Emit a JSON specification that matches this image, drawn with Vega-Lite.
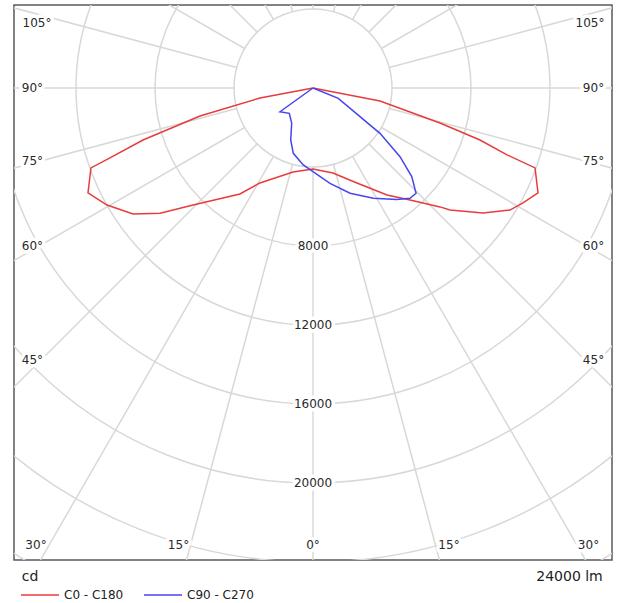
{
  "$schema": "https://vega.github.io/schema/vega-lite/v6.json",
  "width": 598,
  "height": 555,
  "autosize": {"type": "none"},
  "padding": {"left": 14, "top": 5, "right": 8, "bottom": 43},
  "background": "white",
  "config": {
    "view": {"stroke": "#5a5a5a", "strokeWidth": 1.5},
    "font": "DejaVu Sans"
  },
  "datasets": {
    "spokes": [{"a": 0}, {"a": 15}, {"a": 30}, {"a": 45}, {"a": 60}, {"a": 75}, {"a": 90}, {"a": 105}, {"a": 120}, {"a": 135}, {"a": 150}, {"a": 165}, {"a": 180}, {"a": 195}, {"a": 210}, {"a": 225}, {"a": 240}, {"a": 255}, {"a": 270}, {"a": 285}, {"a": 300}, {"a": 315}, {"a": 330}, {"a": 345}],
    "rings": [{"r": 8000}, {"r": 12000}, {"r": 16000}, {"r": 20000}, {"r": 24000}, {"r": 28000}],
    "inner": [{"r": 4000}],
    "curves": [
      {"c": "C0 - C180", "s": -90, "cd": 0},
      {"c": "C0 - C180", "s": -79.3, "cd": 2731},
      {"c": "C0 - C180", "s": -76.1, "cd": 5894},
      {"c": "C0 - C180", "s": -73, "cd": 9001},
      {"c": "C0 - C180", "s": -71, "cd": 10872},
      {"c": "C0 - C180", "s": -70.2, "cd": 11948},
      {"c": "C0 - C180", "s": -65, "cd": 12571},
      {"c": "C0 - C180", "s": -60.4, "cd": 11995},
      {"c": "C0 - C180", "s": -55, "cd": 11124},
      {"c": "C0 - C180", "s": -50.7, "cd": 10003},
      {"c": "C0 - C180", "s": -45.7, "cd": 8486},
      {"c": "C0 - C180", "s": -39.3, "cd": 7196},
      {"c": "C0 - C180", "s": -34.6, "cd": 6516},
      {"c": "C0 - C180", "s": -29.2, "cd": 5508},
      {"c": "C0 - C180", "s": -13.4, "cd": 4371},
      {"c": "C0 - C180", "s": 0, "cd": 4101},
      {"c": "C0 - C180", "s": 13.2, "cd": 4421},
      {"c": "C0 - C180", "s": 24.8, "cd": 5300},
      {"c": "C0 - C180", "s": 34.7, "cd": 6587},
      {"c": "C0 - C180", "s": 40.9, "cd": 7501},
      {"c": "C0 - C180", "s": 46.9, "cd": 8811},
      {"c": "C0 - C180", "s": 48.3, "cd": 9287},
      {"c": "C0 - C180", "s": 53.7, "cd": 10683},
      {"c": "C0 - C180", "s": 58.2, "cd": 11732},
      {"c": "C0 - C180", "s": 61.3, "cd": 12122},
      {"c": "C0 - C180", "s": 65, "cd": 12571},
      {"c": "C0 - C180", "s": 70.2, "cd": 11948},
      {"c": "C0 - C180", "s": 71, "cd": 10391},
      {"c": "C0 - C180", "s": 72.7, "cd": 8856},
      {"c": "C0 - C180", "s": 74.6, "cd": 6670},
      {"c": "C0 - C180", "s": 79, "cd": 3455},
      {"c": "C0 - C180", "s": 90, "cd": 0},
      {"c": "C90 - C270", "s": -90, "cd": 0},
      {"c": "C90 - C270", "s": -54.3, "cd": 2057},
      {"c": "C90 - C270", "s": -43.1, "cd": 1755},
      {"c": "C90 - C270", "s": -31.1, "cd": 2088},
      {"c": "C90 - C270", "s": -23.2, "cd": 2864},
      {"c": "C90 - C270", "s": -16.8, "cd": 3453},
      {"c": "C90 - C270", "s": -7.2, "cd": 3929},
      {"c": "C90 - C270", "s": 0, "cd": 4238},
      {"c": "C90 - C270", "s": 10.1, "cd": 4901},
      {"c": "C90 - C270", "s": 19.4, "cd": 5651},
      {"c": "C90 - C270", "s": 28.7, "cd": 6364},
      {"c": "C90 - C270", "s": 36.9, "cd": 7052},
      {"c": "C90 - C270", "s": 41.3, "cd": 7437},
      {"c": "C90 - C270", "s": 44.4, "cd": 7458},
      {"c": "C90 - C270", "s": 48.1, "cd": 6718},
      {"c": "C90 - C270", "s": 51.7, "cd": 5613},
      {"c": "C90 - C270", "s": 55.9, "cd": 4095},
      {"c": "C90 - C270", "s": 58.6, "cd": 2788},
      {"c": "C90 - C270", "s": 67.8, "cd": 1383},
      {"c": "C90 - C270", "s": 90, "cd": 0}
    ],
    "labels": [
      {"t": "8000", "x": 0, "y": -8000},
      {"t": "12000", "x": 0, "y": -12000},
      {"t": "16000", "x": 0, "y": -16000},
      {"t": "20000", "x": 0, "y": -20000},
      {"t": "105°", "x": -13975, "y": 3291},
      {"t": "90°", "x": -14203, "y": 0},
      {"t": "75°", "x": -14203, "y": -3696},
      {"t": "60°", "x": -14203, "y": -8000},
      {"t": "45°", "x": -14203, "y": -13772},
      {"t": "30°", "x": -14025, "y": -23139},
      {"t": "15°", "x": -6810, "y": -23139},
      {"t": "0°", "x": 0, "y": -23139},
      {"t": "15°", "x": 6886, "y": -23139},
      {"t": "30°", "x": 13949, "y": -23139},
      {"t": "45°", "x": 14203, "y": -13772},
      {"t": "60°", "x": 14203, "y": -8000},
      {"t": "75°", "x": 14203, "y": -3696},
      {"t": "90°", "x": 14203, "y": 0},
      {"t": "105°", "x": 14025, "y": 3291}
    ],
    "notes": [
      {"t": "cd", "x": -14329, "y": -24760},
      {"t": "24000 lm", "x": 12987, "y": -24760}
    ]
  },
  "layer": [
    {
      "data": {"name": "spokes"},
      "transform": [
        {"calculate": "4000 * sin(datum.a * PI / 180)", "as": "sx"},
        {"calculate": "-4000 * cos(datum.a * PI / 180)", "as": "sy"},
        {"calculate": "40000 * sin(datum.a * PI / 180)", "as": "ex"},
        {"calculate": "-40000 * cos(datum.a * PI / 180)", "as": "ey"}
      ],
      "mark": {"type": "rule", "stroke": "#d8d8d8", "strokeWidth": 1.5, "clip": true},
      "encoding": {
        "x": {"field": "sx", "type": "quantitative", "scale": {"domain": [-15139, 15139], "nice": false, "zero": false}, "axis": null},
        "y": {"field": "sy", "type": "quantitative", "scale": {"domain": [-23899, 4203], "nice": false, "zero": false}, "axis": null},
        "x2": {"field": "ex"},
        "y2": {"field": "ey"}
      }
    },
    {
      "data": {"name": "rings"},
      "mark": {"type": "point", "shape": "circle", "filled": false, "stroke": "#d8d8d8", "strokeWidth": 1.5, "opacity": 1, "clip": true},
      "encoding": {
        "x": {"datum": 0, "type": "quantitative", "scale": {"domain": [-15139, 15139], "nice": false, "zero": false}, "axis": null},
        "y": {"datum": 0, "type": "quantitative", "scale": {"domain": [-23899, 4203], "nice": false, "zero": false}, "axis": null},
        "size": {"field": "r", "type": "quantitative", "scale": {"type": "pow", "exponent": 2, "domain": [0, 28000], "range": [0, 1223236]}, "legend": null}
      }
    },
    {
      "data": {"name": "inner"},
      "mark": {"type": "point", "shape": "circle", "filled": true, "fill": "white", "stroke": "#d8d8d8", "strokeWidth": 1.5, "opacity": 1, "clip": true},
      "encoding": {
        "x": {"datum": 0, "type": "quantitative", "scale": {"domain": [-15139, 15139], "nice": false, "zero": false}, "axis": null},
        "y": {"datum": 0, "type": "quantitative", "scale": {"domain": [-23899, 4203], "nice": false, "zero": false}, "axis": null},
        "size": {"field": "r", "type": "quantitative", "scale": {"type": "pow", "exponent": 2, "domain": [0, 28000], "range": [0, 1223236]}, "legend": null}
      }
    },
    {
      "data": {"name": "labels"},
      "mark": {"type": "text", "fontSize": 12, "font": "DejaVu Sans", "align": "center", "baseline": "middle", "fill": "white", "stroke": "white", "strokeWidth": 7, "strokeJoin": "round"},
      "encoding": {
        "x": {"field": "x", "type": "quantitative", "scale": {"domain": [-15139, 15139], "nice": false, "zero": false}, "axis": null},
        "y": {"field": "y", "type": "quantitative", "scale": {"domain": [-23899, 4203], "nice": false, "zero": false}, "axis": null},
        "text": {"field": "t"}
      }
    },
    {
      "data": {"name": "labels"},
      "mark": {"type": "text", "fontSize": 12, "font": "DejaVu Sans", "align": "center", "baseline": "middle", "fill": "#2a2a2a"},
      "encoding": {
        "x": {"field": "x", "type": "quantitative", "scale": {"domain": [-15139, 15139], "nice": false, "zero": false}, "axis": null},
        "y": {"field": "y", "type": "quantitative", "scale": {"domain": [-23899, 4203], "nice": false, "zero": false}, "axis": null},
        "text": {"field": "t"}
      }
    },
    {
      "data": {"name": "notes"},
      "mark": {"type": "text", "fontSize": 14, "font": "DejaVu Sans", "align": "center", "baseline": "middle", "fill": "#222222", "clip": false},
      "encoding": {
        "x": {"field": "x", "type": "quantitative", "scale": {"domain": [-15139, 15139], "nice": false, "zero": false}, "axis": null},
        "y": {"field": "y", "type": "quantitative", "scale": {"domain": [-23899, 4203], "nice": false, "zero": false}, "axis": null},
        "text": {"field": "t"}
      }
    },
    {
      "data": {"name": "curves"},
      "transform": [
        {"calculate": "datum.cd * sin(datum.s * PI / 180)", "as": "px"},
        {"calculate": "-datum.cd * cos(datum.s * PI / 180)", "as": "py"}
      ],
      "mark": {"type": "line", "strokeWidth": 1.5, "clip": true},
      "encoding": {
        "x": {"field": "px", "type": "quantitative", "scale": {"domain": [-15139, 15139], "nice": false, "zero": false}, "axis": null},
        "y": {"field": "py", "type": "quantitative", "scale": {"domain": [-23899, 4203], "nice": false, "zero": false}, "axis": null},
        "order": {"field": "s", "type": "quantitative"},
        "color": {"field": "c", "type": "nominal",
                  "scale": {"domain": ["C0 - C180", "C90 - C270"], "range": ["#e83c3c", "#4646ee"]},
                  "legend": {"title": null, "orient": "none", "legendX": 6, "legendY": 570, "direction": "horizontal", "symbolType": "stroke", "symbolSize": 1444, "symbolStrokeWidth": 1.5, "labelFontSize": 12, "labelFont": "DejaVu Sans", "labelColor": "#222222", "columnPadding": 17, "labelOffset": 4, "padding": 0}}
      }
    }
  ]
}
